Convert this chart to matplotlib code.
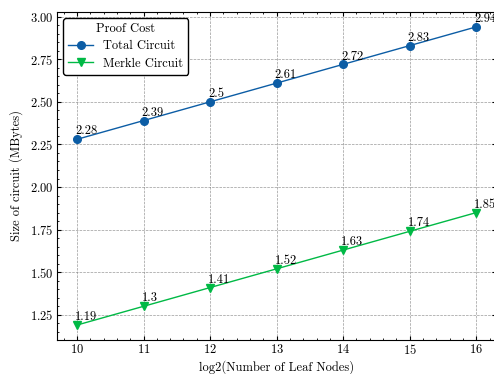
import numpy as np
import matplotlib
matplotlib.use("Agg")
import matplotlib.pyplot as plt
from matplotlib.ticker import AutoMinorLocator

leaf_nodes = [10, 11, 12, 13, 14, 15, 16]
total_circuit = [2.28, 2.39, 2.5, 2.61, 2.72, 2.83, 2.94]
merkle_circuit = [1.19, 1.3, 1.41, 1.52, 1.63, 1.74, 1.85]

plt.rcParams['font.family'] = ['cmr10', 'DejaVu Serif']
plt.rcParams['axes.formatter.use_mathtext'] = True
plt.rcParams['font.size'] = 9

fig = plt.figure(figsize=(4.94, 3.74), dpi=100)
ax = fig.add_axes([0.1154, 0.091, 0.889, 0.877])

ax.plot(leaf_nodes, total_circuit, marker='o', color='#0C5DA5', label='Total Circuit',
        linewidth=1.0, markersize=5.5)
ax.plot(leaf_nodes, merkle_circuit, marker='v', color='#00B945', label='Merkle Circuit',
        linewidth=1.0, markersize=5.5)

# value labels just above each point
for x, y in zip(leaf_nodes, total_circuit):
    ax.annotate(str(y), (x, y), xytext=(-1.5, 3.5), textcoords='offset points')
for x, y in zip(leaf_nodes, merkle_circuit):
    ax.annotate(str(y), (x, y), xytext=(-1.5, 3.5), textcoords='offset points')

ax.set_xlabel("log2(Number of Leaf Nodes)", labelpad=2)
ax.set_ylabel("Size of circuit (MBytes)", labelpad=5)

ax.xaxis.set_minor_locator(AutoMinorLocator(5))
ax.yaxis.set_minor_locator(AutoMinorLocator(5))
ax.tick_params(which='both', direction='in', top=True, right=True)
ax.tick_params(which='major', length=3, pad=2.5)
ax.tick_params(which='minor', length=1.5)
ax.grid(True, linestyle='--', color='gray', linewidth=0.5, alpha=0.8)

leg = ax.legend(title='Proof Cost', loc='upper left', frameon=True, fancybox=True,
                edgecolor='black', framealpha=1.0, labelspacing=0.4)
leg.get_frame().set_linewidth(1.0)

fig.savefig("out.png", dpi=100)
